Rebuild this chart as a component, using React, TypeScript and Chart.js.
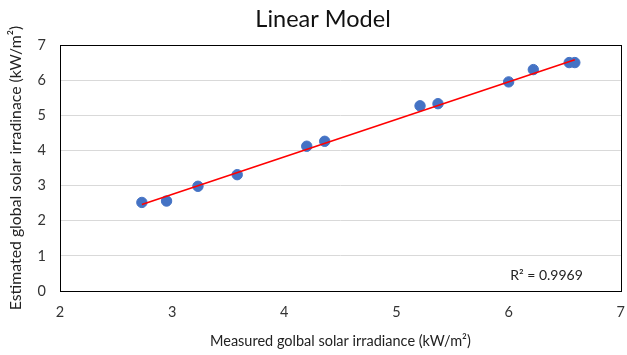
import React, { useEffect, useRef } from "react";
import { Chart, registerables } from "chart.js";

Chart.register(...registerables);

// Measured vs. estimated global solar irradiance (kW/m²)
const measured = [2.73, 2.95, 3.23, 3.58, 4.2, 4.36, 5.21, 5.37, 6.0, 6.22, 6.54, 6.59];
const estimated = [2.52, 2.56, 2.98, 3.31, 4.12, 4.26, 5.27, 5.33, 5.95, 6.3, 6.5, 6.5];

// Linear trendline end points
const trendX = [2.73, 6.59];
const trendY = [2.46, 6.58];

const chartTitle = "Linear Model";
const rSquaredLabel = "R² = 0.9969";

const FONT = "Lato, 'Open Sans', sans-serif";

// Plot frame, chart title and the R² annotation
const decorations = {
  id: "decorations",
  afterDraw(chart: any) {
    const { ctx, chartArea: a } = chart;
    ctx.save();
    ctx.strokeStyle = "#000";
    ctx.lineWidth = 1;
    ctx.strokeRect(
      Math.round(a.left) + 0.5,
      Math.round(a.top) + 0.5,
      Math.round(a.right - a.left),
      Math.round(a.bottom - a.top)
    );
    ctx.fillStyle = "#222";
    ctx.font = `14px ${FONT}`;
    ctx.textAlign = "right";
    ctx.textBaseline = "middle";
    ctx.fillText(rSquaredLabel, a.right - 38, a.bottom - 16);

    ctx.fillStyle = "#111";
    ctx.font = `23.5px ${FONT}`;
    ctx.textAlign = "center";
    ctx.textBaseline = "alphabetic";
    ctx.fillText(chartTitle, 323, 27);
    ctx.restore();
  },
};

export default function App() {
  const ref = useRef<HTMLCanvasElement | null>(null);

  useEffect(() => {
    if (!ref.current) return;
    const chart = new Chart(ref.current, {
      type: "scatter",
      data: {
        datasets: [
          {
            label: "Estimated",
            data: measured.map((x, i) => ({ x, y: estimated[i] })),
            backgroundColor: "#4472C4",
            borderColor: "#4472C4",
            pointRadius: 5.2,
            pointHoverRadius: 5.2,
            order: 2,
          },
          {
            label: "Linear",
            type: "line",
            data: trendX.map((x, i) => ({ x, y: trendY[i] })),
            borderColor: "#FF0000",
            borderWidth: 1.6,
            pointRadius: 0,
            fill: false,
            order: 1,
          },
        ],
      },
      options: {
        responsive: false,
        animation: false,
        layout: { padding: { top: 45, right: 4, left: 0, bottom: 0 } },
        plugins: {
          legend: { display: false },
          tooltip: { enabled: false },
          title: { display: false },
        },
        scales: {
          x: {
            type: "linear",
            min: 2,
            max: 7,
            ticks: { stepSize: 1, color: "#333", font: { family: FONT, size: 14.5 }, padding: 13 },
            grid: { display: false, drawTicks: false },
            border: { display: false },
            title: {
              display: true,
              text: "Measured golbal solar irradiance (kW/m²)",
              color: "#222",
              font: { family: FONT, size: 14.5 },
              padding: { top: 0, bottom: 5 },
            },
            afterFit(scale: any) {
              scale.height = 64;
              scale.paddingLeft = 0;
              scale.paddingRight = 0;
            },
          },
          y: {
            min: 0,
            max: 7,
            ticks: { stepSize: 1, color: "#333", font: { family: FONT, size: 14.5 }, padding: 14 },
            grid: { color: "#D9D9D9", drawTicks: false },
            border: { display: false },
            title: {
              display: true,
              text: "Estimated global solar irradinace (kW/m²)",
              color: "#222",
              font: { family: FONT, size: 15.8 },
              padding: { top: 6, bottom: 0 },
            },
            afterFit(scale: any) {
              scale.width = 60;
              scale.paddingTop = 0;
              scale.paddingBottom = 0;
            },
          },
        },
      },
      plugins: [decorations],
    });
    return () => chart.destroy();
  }, []);

  return (
    <div style={{ position: "fixed", left: 0, top: 0, width: 627, height: 355, background: "#fff" }}>
      <canvas ref={ref} width={627} height={355} />
    </div>
  );
}
